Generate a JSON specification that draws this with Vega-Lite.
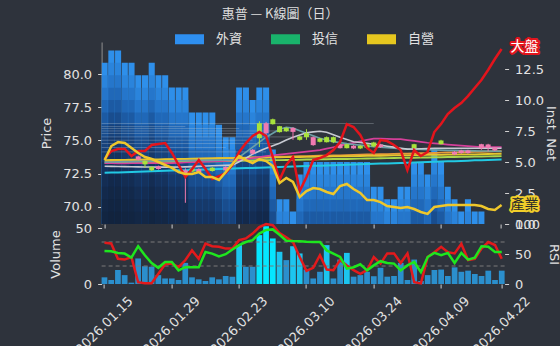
{
  "$schema": "https://vega.github.io/schema/vega-lite/v6.json",
  "background": "#2e333c",
  "autosize": {"type": "none"},
  "padding": {"left": 101.6, "top": 42, "right": 458.4, "bottom": 304},
  "title": {"text": "惠普 — K線圖（日）", "color": "#dedede", "fontSize": 13, "fontWeight": "normal", "font": "Noto Sans CJK TC", "anchor": "middle", "frame": "bounds", "offset": 4, "dx": -20},
  "config": {
    "font": "DejaVu Sans",
    "view": {"stroke": null},
    "axis": {"labelColor": "#e2e2e2", "titleColor": "#e2e2e2", "tickColor": "#d0d0d0", "domainColor": "#8f8f8f", "labelFontSize": 13, "titleFontSize": 13, "titleFontWeight": "normal", "grid": false, "tickSize": 4, "labelPadding": 6, "labelFont": "DejaVu Sans", "titleFont": "DejaVu Sans"}
  },
  "datasets": {
    "days": [
      {"d":"2026.01.15","fn":13,"mkt":5.24,"ind":5.16,"vol":6,"r1":68.6,"r2":55,"m1":72.56,"m2":73.44,"m3":73.52,"m4":73.29,"m5":73.29,"m6":73.06,"m7":73.37},
      {"d":"2026.01.16","fn":14,"mkt":5.89,"ind":6.29,"vol":3.6,"r1":67.5,"r2":54.6,"m1":72.58,"m2":73.45,"m3":73.53,"m4":73.30,"m5":73.29,"m6":73.05,"m7":73.38},
      {"d":"2026.01.19","fn":14,"mkt":6.05,"ind":6.61,"vol":12.6,"r1":42,"r2":51.8,"m1":72.59,"m2":73.47,"m3":73.54,"m4":73.31,"m5":73.28,"m6":73.04,"m7":73.39},
      {"d":"2026.01.20","fn":13,"mkt":6.05,"ind":6.53,"vol":8,"r1":40.7,"r2":50.7,"m1":72.61,"m2":73.48,"m3":73.54,"m4":73.32,"m5":73.28,"m6":73.03,"m7":73.40},
      {"d":"2026.01.21","fn":13,"mkt":5.48,"ind":6.13,"vol":1.2,"r1":45,"r2":44,"m1":72.63,"m2":73.49,"m3":73.55,"m4":73.33,"m5":73.29,"m6":73.02,"m7":73.41},
      {"d":"2026.01.22","fn":12,"mkt":5.89,"ind":5.73,"vol":23,"r1":3,"r2":63,"m1":72.65,"m2":73.50,"m3":73.56,"m4":73.34,"m5":73.29,"m6":73.01,"m7":73.42,"op":73.55,"hi":73.85,"lo":73.5,"cl":73.8},
      {"d":"2026.01.23","fn":12,"mkt":5.89,"ind":5.40,"vol":16,"r1":1.3,"r2":48,"m1":72.66,"m2":73.52,"m3":73.57,"m4":73.34,"m5":73.30,"m6":73.00,"m7":73.43,"op":73.45,"hi":73.5,"lo":72.95,"cl":73.2},
      {"d":"2026.01.26","fn":13,"mkt":6.37,"ind":5.24,"vol":15.5,"r1":1.3,"r2":35,"m1":72.68,"m2":73.53,"m3":73.58,"m4":73.35,"m5":73.30,"m6":73.00,"m7":73.44,"op":73.0,"hi":73.05,"lo":72.7,"cl":72.75},
      {"d":"2026.01.27","fn":12,"mkt":6.45,"ind":5.00,"vol":8,"r1":17,"r2":27,"m1":72.70,"m2":73.54,"m3":73.58,"m4":73.36,"m5":73.30,"m6":72.99,"m7":73.45,"op":72.85,"hi":73.1,"lo":72.8,"cl":73.05},
      {"d":"2026.01.28","fn":12,"mkt":6.53,"ind":4.76,"vol":5,"r1":32.8,"r2":36.7,"m1":72.71,"m2":73.55,"m3":73.59,"m4":73.37,"m5":73.30,"m6":72.99,"m7":73.46},
      {"d":"2026.01.29","fn":11,"mkt":5.73,"ind":4.52,"vol":5,"r1":34,"r2":36.7,"m1":72.73,"m2":73.57,"m3":73.60,"m4":73.38,"m5":73.30,"m6":72.99,"m7":73.46},
      {"d":"2026.01.30","fn":11,"mkt":4.76,"ind":4.19,"vol":3.6,"r1":28,"r2":22.7,"m1":72.75,"m2":73.58,"m3":73.61,"m4":73.39,"m5":73.32,"m6":73.00,"m7":73.47},
      {"d":"2026.02.02","fn":11,"mkt":3.79,"ind":4.03,"vol":19,"r1":39.5,"r2":28,"m1":72.76,"m2":73.59,"m3":73.62,"m4":73.40,"m5":73.34,"m6":73.01,"m7":73.48,"op":72.5,"hi":72.9,"lo":70.3,"cl":72.75},
      {"d":"2026.02.03","fn":9,"mkt":4.44,"ind":4.03,"vol":6,"r1":56,"r2":28,"m1":72.78,"m2":73.61,"m3":73.63,"m4":73.41,"m5":73.36,"m6":73.03,"m7":73.48,"op":72.9,"hi":72.95,"lo":72.6,"cl":72.65},
      {"d":"2026.02.04","fn":9,"mkt":5.16,"ind":4.19,"vol":4.2,"r1":42,"r2":28,"m1":72.80,"m2":73.62,"m3":73.63,"m4":73.42,"m5":73.38,"m6":73.05,"m7":73.49,"op":72.6,"hi":72.9,"lo":72.55,"cl":72.85},
      {"d":"2026.02.05","fn":9,"mkt":4.44,"ind":3.79,"vol":2.7,"r1":67.5,"r2":53.4,"m1":72.82,"m2":73.63,"m3":73.64,"m4":73.43,"m5":73.40,"m6":73.07,"m7":73.50},
      {"d":"2026.02.06","fn":9,"mkt":3.63,"ind":3.79,"vol":6,"r1":63,"r2":50.7,"m1":72.83,"m2":73.64,"m3":73.65,"m4":73.43,"m5":73.42,"m6":73.09,"m7":73.50,"op":72.95,"hi":73.0,"lo":72.65,"cl":72.7},
      {"d":"2026.02.09","fn":8,"mkt":3.87,"ind":3.55,"vol":4.2,"r1":62,"r2":46,"m1":72.85,"m2":73.66,"m3":73.66,"m4":73.44,"m5":73.45,"m6":73.11,"m7":73.51},
      {"d":"2026.02.10","fn":7,"mkt":4.11,"ind":4.19,"vol":7.2,"r1":59,"r2":49.6,"m1":72.87,"m2":73.67,"m3":73.67,"m4":73.45,"m5":73.47,"m6":73.12,"m7":73.51,"op":72.75,"hi":73.05,"lo":72.7,"cl":73.0},
      {"d":"2026.02.11","fn":7,"mkt":4.76,"ind":4.84,"vol":6.6,"r1":59,"r2":57.5,"m1":72.88,"m2":73.68,"m3":73.67,"m4":73.46,"m5":73.50,"m6":73.14,"m7":73.52},
      {"d":"2026.02.23","fn":11,"mkt":5.81,"ind":5.48,"vol":35,"r1":73,"r2":64.7,"m1":72.90,"m2":73.69,"m3":73.68,"m4":73.47,"m5":73.52,"m6":73.40,"m7":73.74},
      {"d":"2026.02.24","fn":11,"mkt":6.53,"ind":5.16,"vol":15.5,"r1":76,"r2":70,"m1":72.92,"m2":73.71,"m3":73.69,"m4":73.48,"m5":73.60,"m6":73.67,"m7":74.12},
      {"d":"2026.02.25","fn":10,"mkt":7.10,"ind":4.92,"vol":15.5,"r1":84,"r2":73,"m1":72.93,"m2":73.72,"m3":73.70,"m4":73.49,"m5":73.67,"m6":73.97,"m7":74.50,"op":74.0,"hi":74.35,"lo":73.95,"cl":74.3},
      {"d":"2026.02.26","fn":11,"mkt":7.42,"ind":5.24,"vol":44,"r1":95,"r2":84,"m1":72.95,"m2":73.73,"m3":73.71,"m4":73.50,"m5":73.75,"m6":74.20,"m7":74.88,"op":76.3,"hi":76.45,"lo":74.5,"cl":75.17},
      {"d":"2026.03.02","fn":11,"mkt":7.10,"ind":5.08,"vol":52,"r1":100,"r2":90,"m1":72.97,"m2":73.74,"m3":73.71,"m4":73.51,"m5":73.82,"m6":74.42,"m7":75.25,"op":75.55,"hi":76.4,"lo":75.3,"cl":76.3},
      {"d":"2026.03.03","fn":6,"mkt":5.40,"ind":4.68,"vol":41,"r1":98,"r2":91,"m1":72.99,"m2":73.76,"m3":73.72,"m4":73.52,"m5":73.88,"m6":74.61,"m7":75.55,"op":76.6,"hi":76.65,"lo":76.2,"cl":76.23},
      {"d":"2026.03.04","fn":2,"mkt":3.55,"ind":3.31,"vol":29,"r1":85,"r2":82,"m1":73.00,"m2":73.77,"m3":73.73,"m4":73.52,"m5":73.93,"m6":74.80,"m7":75.85,"op":76.08,"hi":76.1,"lo":75.6,"cl":75.63},
      {"d":"2026.03.05","fn":2,"mkt":4.76,"ind":3.71,"vol":21.5,"r1":78,"r2":72,"m1":73.02,"m2":73.78,"m3":73.74,"m4":73.53,"m5":73.99,"m6":75.03,"m7":76.00,"op":75.95,"hi":76.0,"lo":75.65,"cl":75.7},
      {"d":"2026.03.06","fn":1,"mkt":5.40,"ind":3.39,"vol":34,"r1":70,"r2":71.5,"m1":73.04,"m2":73.80,"m3":73.75,"m4":73.54,"m5":74.04,"m6":75.25,"m7":75.93,"op":75.65,"hi":76.0,"lo":75.05,"cl":75.95},
      {"d":"2026.03.09","fn":4,"mkt":2.66,"ind":2.18,"vol":27.5,"r1":45,"r2":71.4,"m1":73.05,"m2":73.81,"m3":73.75,"m4":73.55,"m5":74.10,"m6":75.42,"m7":75.74,"op":75.3,"hi":75.35,"lo":75.0,"cl":75.05},
      {"d":"2026.03.10","fn":5,"mkt":3.79,"ind":2.66,"vol":13,"r1":22,"r2":70.5,"m1":73.07,"m2":73.82,"m3":73.76,"m4":73.56,"m5":74.16,"m6":75.59,"m7":75.55,"op":75.55,"hi":75.85,"lo":75.05,"cl":75.25},
      {"d":"2026.03.11","fn":5,"mkt":5.16,"ind":2.90,"vol":5,"r1":27,"r2":70,"m1":73.09,"m2":73.83,"m3":73.77,"m4":73.57,"m5":74.21,"m6":75.65,"m7":75.36,"op":74.65,"hi":75.3,"lo":74.6,"cl":75.25},
      {"d":"2026.03.12","fn":5,"mkt":5.32,"ind":2.82,"vol":11,"r1":48,"r2":70,"m1":73.10,"m2":73.85,"m3":73.78,"m4":73.58,"m5":74.27,"m6":75.70,"m7":75.17,"op":75.15,"hi":75.2,"lo":74.85,"cl":74.9},
      {"d":"2026.03.13","fn":5,"mkt":5.56,"ind":2.58,"vol":35,"r1":24,"r2":56,"m1":73.12,"m2":73.86,"m3":73.79,"m4":73.59,"m5":74.38,"m6":75.62,"m7":75.04,"op":75.25,"hi":75.3,"lo":74.85,"cl":74.87},
      {"d":"2026.03.16","fn":5,"mkt":5.97,"ind":2.42,"vol":5,"r1":23,"r2":50.7,"m1":73.14,"m2":73.87,"m3":73.80,"m4":73.60,"m5":74.49,"m6":75.44,"m7":74.91,"op":75.25,"hi":75.3,"lo":74.8,"cl":74.87},
      {"d":"2026.03.17","fn":5,"mkt":6.61,"ind":3.06,"vol":22,"r1":40,"r2":45,"m1":73.16,"m2":73.88,"m3":73.80,"m4":73.61,"m5":74.61,"m6":75.25,"m7":74.84,"op":74.42,"hi":74.75,"lo":74.4,"cl":74.72},
      {"d":"2026.03.18","fn":5,"mkt":8.06,"ind":3.23,"vol":28,"r1":31,"r2":25.5,"m1":73.17,"m2":73.90,"m3":73.81,"m4":73.61,"m5":74.72,"m6":75.08,"m7":74.76,"op":74.72,"hi":74.75,"lo":74.4,"cl":74.42},
      {"d":"2026.03.19","fn":5,"mkt":7.82,"ind":2.82,"vol":6.6,"r1":23,"r2":28,"m1":73.19,"m2":73.91,"m3":73.82,"m4":73.62,"m5":74.82,"m6":74.91,"m7":74.70,"op":74.4,"hi":74.65,"lo":74.35,"cl":74.6},
      {"d":"2026.03.20","fn":5,"mkt":7.18,"ind":2.50,"vol":8,"r1":17,"r2":32.8,"m1":73.21,"m2":73.92,"m3":73.83,"m4":73.63,"m5":74.93,"m6":74.85,"m7":74.65,"op":74.6,"hi":74.65,"lo":74.35,"cl":74.4},
      {"d":"2026.03.23","fn":5,"mkt":6.13,"ind":1.94,"vol":11,"r1":23,"r2":22.7,"m1":73.22,"m2":73.94,"m3":73.84,"m4":73.64,"m5":75.04,"m6":74.78,"m7":74.59,"op":74.7,"hi":74.75,"lo":74.4,"cl":74.45},
      {"d":"2026.03.24","fn":3,"mkt":5.73,"ind":1.94,"vol":7,"r1":45,"r2":31,"m1":73.24,"m2":73.95,"m3":73.84,"m4":73.65,"m5":75.14,"m6":74.72,"m7":74.53,"op":74.85,"hi":74.9,"lo":74.5,"cl":74.55},
      {"d":"2026.03.25","fn":3,"mkt":6.77,"ind":1.77,"vol":14.6,"r1":34,"r2":38,"m1":73.26,"m2":73.96,"m3":73.85,"m4":73.66,"m5":75.14,"m6":74.65,"m7":74.49,"op":74.5,"hi":74.75,"lo":74.45,"cl":74.7},
      {"d":"2026.03.26","fn":2,"mkt":6.69,"ind":1.45,"vol":6.6,"r1":51,"r2":35,"m1":73.27,"m2":73.97,"m3":73.86,"m4":73.67,"m5":75.13,"m6":74.57,"m7":74.46},
      {"d":"2026.03.27","fn":2,"mkt":6.37,"ind":1.37,"vol":7.2,"r1":51,"r2":34,"m1":73.29,"m2":73.99,"m3":73.87,"m4":73.68,"m5":75.11,"m6":74.50,"m7":74.42},
      {"d":"2026.03.30","fn":3,"mkt":5.97,"ind":1.29,"vol":19,"r1":35,"r2":22.7,"m1":73.31,"m2":74.00,"m3":73.88,"m4":73.69,"m5":75.10,"m6":74.42,"m7":74.39},
      {"d":"2026.03.31","fn":3,"mkt":4.35,"ind":1.37,"vol":3.6,"r1":51,"r2":31,"m1":73.33,"m2":74.01,"m3":73.88,"m4":73.70,"m5":75.03,"m6":74.35,"m7":74.35},
      {"d":"2026.04.01","fn":5,"mkt":5.97,"ind":1.21,"vol":22,"r1":3,"r2":36.7,"m1":73.34,"m2":74.02,"m3":73.89,"m4":73.70,"m5":74.97,"m6":74.36,"m7":74.34,"op":74.72,"hi":74.75,"lo":74.4,"cl":74.42},
      {"d":"2026.04.02","fn":5,"mkt":5.48,"ind":0.97,"vol":2.7,"r1":1,"r2":19.8,"m1":73.36,"m2":74.04,"m3":73.90,"m4":73.71,"m5":74.90,"m6":74.38,"m7":74.32},
      {"d":"2026.04.07","fn":4,"mkt":5.81,"ind":0.81,"vol":8,"r1":45,"r2":45,"m1":73.38,"m2":74.05,"m3":73.91,"m4":73.72,"m5":74.83,"m6":74.39,"m7":74.30},
      {"d":"2026.04.08","fn":6,"mkt":7.42,"ind":1.37,"vol":12.6,"r1":53,"r2":51.8,"m1":73.39,"m2":74.06,"m3":73.92,"m4":73.73,"m5":74.78,"m6":74.41,"m7":74.29},
      {"d":"2026.04.09","fn":5,"mkt":8.06,"ind":1.45,"vol":13,"r1":62,"r2":48,"m1":73.41,"m2":74.08,"m3":73.92,"m4":73.74,"m5":74.74,"m6":74.42,"m7":74.27,"op":75.0,"hi":75.05,"lo":74.7,"cl":74.72},
      {"d":"2026.04.10","fn":3,"mkt":8.87,"ind":1.53,"vol":7.2,"r1":53,"r2":51.8,"m1":73.43,"m2":74.09,"m3":73.93,"m4":73.75,"m5":74.69,"m6":74.42,"m7":74.26},
      {"d":"2026.04.13","fn":2,"mkt":9.35,"ind":1.53,"vol":15,"r1":51,"r2":35,"m1":73.44,"m2":74.10,"m3":73.94,"m4":73.76,"m5":74.65,"m6":74.42,"m7":74.25,"op":73.95,"hi":74.2,"lo":73.9,"cl":74.15},
      {"d":"2026.04.14","fn":1,"mkt":9.76,"ind":1.53,"vol":11,"r1":67,"r2":51.8,"m1":73.46,"m2":74.11,"m3":73.95,"m4":73.77,"m5":74.61,"m6":74.42,"m7":74.24,"op":74.05,"hi":74.3,"lo":74.0,"cl":74.25},
      {"d":"2026.04.15","fn":2,"mkt":10.32,"ind":1.53,"vol":12,"r1":40,"r2":40.7,"m1":73.48,"m2":74.13,"m3":73.96,"m4":73.78,"m5":74.57,"m6":74.42,"m7":74.23,"op":74.05,"hi":74.3,"lo":74.0,"cl":74.25},
      {"d":"2026.04.16","fn":1,"mkt":10.97,"ind":1.53,"vol":9,"r1":42,"r2":44,"m1":73.50,"m2":74.14,"m3":73.96,"m4":73.79,"m5":74.54,"m6":74.42,"m7":74.22},
      {"d":"2026.04.17","fn":1,"mkt":11.61,"ind":1.45,"vol":7.2,"r1":59,"r2":63,"m1":73.51,"m2":74.15,"m3":73.97,"m4":73.79,"m5":74.50,"m6":74.42,"m7":74.21,"op":74.42,"hi":74.75,"lo":74.3,"cl":74.72},
      {"d":"2026.04.20","fn":0,"mkt":12.42,"ind":1.21,"vol":12,"r1":70,"r2":62,"m1":73.53,"m2":74.16,"m3":73.98,"m4":73.80,"m5":74.50,"m6":74.42,"m7":74.21,"op":74.45,"hi":74.75,"lo":74.2,"cl":74.7},
      {"d":"2026.04.21","fn":0,"mkt":13.31,"ind":1.13,"vol":3.6,"r1":65,"r2":53.4,"m1":73.55,"m2":74.18,"m3":73.99,"m4":73.81,"m5":74.50,"m6":74.42,"m7":74.20,"op":74.25,"hi":74.5,"lo":74.2,"cl":74.45},
      {"d":"2026.04.22","fn":0,"mkt":14.11,"ind":1.53,"vol":12,"r1":42,"r2":53.4,"m1":73.56,"m2":74.19,"m3":74.00,"m4":73.82,"m5":74.50,"m6":74.42,"m7":74.19}
    ],
    "lv": [
      {"s":"2026.01.15","e":"2026.03.24","p":76.28},
      {"s":"2026.01.15","e":"2026.02.02","p":76.05},
      {"s":"2026.01.15","e":"2026.02.23","p":75.90},
      {"s":"2026.01.15","e":"2026.03.06","p":75.72},
      {"s":"2026.01.15","e":"2026.03.02","p":75.53},
      {"s":"2026.01.15","e":"2026.03.11","p":75.27},
      {"s":"2026.01.15","e":"2026.02.25","p":75.02},
      {"s":"2026.01.15","e":"2026.03.04","p":74.77},
      {"s":"2026.01.15","e":"2026.02.10","p":74.47},
      {"s":"2026.01.15","e":"2026.03.02","p":74.14}
    ],
    "inst": [{"inst":"外資"},{"inst":"投信"},{"inst":"自營"}]
  },
  "data": {"name": "days"},
  "spacing": 0,
  "bounds": "flush",
  "resolve": {"scale": {"x": "independent", "color": "independent"}, "legend": {"color": "independent"}},
  "vconcat": [
    {
      "width": 403,
      "height": 182,
      "encoding": {
        "x": {"field": "d", "type": "ordinal", "scale": {"paddingInner": 0.1, "paddingOuter": 0},
          "axis": {"values": ["2026.01.15","2026.01.29","2026.02.23","2026.03.10","2026.03.24","2026.04.09","2026.04.22"], "labels": false, "ticks": true, "domain": false, "tickSize": 4, "title": null}}
      },
      "layer": [
        {
          "encoding": {"y": {"field": "fn", "type": "quantitative", "scale": {"domain": [0, 14.68], "nice": false},
            "axis": {"orient": "right", "title": "Inst. Net", "values": [0, 2.5, 5, 7.5, 10, 12.5], "format": ".1f", "domain": false, "minExtent": 38, "maxExtent": 38, "titlePadding": 1}}},
          "layer": [
            {"mark": {"type": "bar", "color": "#2e8fea", "yOffset": 0, "clip": true}},
            {"mark": {"type": "bar", "color": "#2a84dc", "yOffset": 12.4, "clip": true}},
            {"mark": {"type": "bar", "color": "#2576cb", "yOffset": 24.8, "clip": true}},
            {"mark": {"type": "bar", "color": "#2068b8", "yOffset": 37.2, "clip": true}},
            {"mark": {"type": "bar", "color": "#1c5aa3", "yOffset": 49.6, "clip": true}},
            {"mark": {"type": "bar", "color": "#194d8e", "yOffset": 62, "clip": true}},
            {"mark": {"type": "bar", "color": "#17427b", "yOffset": 74.4, "clip": true}},
            {"mark": {"type": "bar", "color": "#16396a", "yOffset": 86.8, "clip": true}},
            {"mark": {"type": "bar", "color": "#15325d", "yOffset": 99.2, "clip": true}},
            {"mark": {"type": "bar", "color": "#142d53", "yOffset": 111.6, "clip": true}},
            {"mark": {"type": "bar", "color": "#13294b", "yOffset": 124, "clip": true}},
            {"mark": {"type": "bar", "color": "#132745", "yOffset": 136.4, "clip": true}},
            {"mark": {"type": "bar", "color": "#122541", "yOffset": 148.8, "clip": true}},
            {"mark": {"type": "bar", "color": "#12233d", "yOffset": 161.2, "clip": true}}
          ]
        },
        {
          "layer": [
            {"data": {"name": "lv"},
             "mark": {"type": "rule", "color": "#c5ccd6", "opacity": 0.3, "strokeWidth": 1},
             "encoding": {
               "x": {"field": "s", "type": "ordinal", "bandPosition": 0},
               "x2": {"field": "e"},
               "y": {"field": "p", "type": "quantitative", "scale": {"domain": [68.70, 82.43], "nice": false, "zero": false},
                 "axis": {"orient": "left", "title": "Price", "values": [70, 72.5, 75, 77.5, 80], "format": ".1f", "minExtent": 35, "maxExtent": 35, "titlePadding": 13}}}},
            {"transform": [{"fold": ["m1","m4","m2","m3","m5","m7","m6"], "as": ["ma","pv"]}],
             "mark": {"type": "line"},
             "encoding": {
               "y": {"field": "pv", "type": "quantitative", "scale": {"domain": [68.70, 82.43], "nice": false, "zero": false},
                 "axis": {"orient": "left", "title": "Price", "values": [70, 72.5, 75, 77.5, 80], "format": ".1f", "minExtent": 35, "maxExtent": 35, "titlePadding": 13}},
               "stroke": {"field": "ma", "type": "nominal", "scale": {"domain": ["m1","m4","m2","m3","m5","m7","m6"], "range": ["#22c9e3","#a9d64b","#e99b3a","#e4c62e","#d4409a","#6b9fa6","#c7c9d1"]}, "legend": null},
               "strokeWidth": {"field": "ma", "type": "ordinal", "scale": {"domain": ["m1","m4","m2","m3","m5","m7","m6"], "range": [2, 1.6, 1.6, 3, 2, 2, 2]}, "legend": null}}},
            {"mark": {"type": "rule", "strokeWidth": 1},
             "encoding": {
               "y": {"field": "lo", "type": "quantitative", "scale": {"domain": [68.70, 82.43], "nice": false, "zero": false},
                 "axis": {"orient": "left", "title": "Price", "values": [70, 72.5, 75, 77.5, 80], "format": ".1f", "minExtent": 35, "maxExtent": 35, "titlePadding": 13}},
               "y2": {"field": "hi"},
               "color": {"condition": {"test": "datum.cl >= datum.op", "value": "#f07ab0"}, "value": "#a8e23c"}}},
            {"mark": {"type": "bar", "width": 5},
             "encoding": {
               "y": {"field": "op", "type": "quantitative", "scale": {"domain": [68.70, 82.43], "nice": false, "zero": false},
                 "axis": {"orient": "left", "title": "Price", "values": [70, 72.5, 75, 77.5, 80], "format": ".1f", "minExtent": 35, "maxExtent": 35, "titlePadding": 13}},
               "y2": {"field": "cl"},
               "color": {"condition": {"test": "datum.cl >= datum.op", "value": "#f07ab0"}, "value": "#a8e23c"}}}
          ]
        },
        {
          "layer": [
            {"data": {"name": "inst"},
             "mark": {"type": "bar"},
             "encoding": {
               "x": {"value": 0}, "x2": {"value": 1},
               "y": {"value": 0}, "y2": {"value": 0},
               "color": {"field": "inst", "type": "nominal",
                 "scale": {"domain": ["外資","投信","自營"], "range": ["#2e8ff0","#19b36b","#e6c71f"]},
                 "legend": {"orient": "none", "legendX": 73.4, "legendY": -17.5, "direction": "horizontal", "title": null,
                   "symbolType": "M-1,-0.345H1V0.345H-1Z", "symbolSize": 841, "symbolStrokeWidth": 0,
                   "labelColor": "#e2e2e2", "labelFontSize": 13, "labelFont": "Noto Sans CJK TC", "labelOffset": 12, "columnPadding": 28, "padding": 0}}}},
            {"mark": {"type": "line", "color": "#e3141c", "strokeWidth": 2.5},
             "encoding": {"y": {"field": "mkt", "type": "quantitative", "scale": {"domain": [0, 14.68], "nice": false}, "axis": null}}},
            {"mark": {"type": "line", "color": "#efc72b", "strokeWidth": 2.5},
             "encoding": {"y": {"field": "ind", "type": "quantitative", "scale": {"domain": [0, 14.68], "nice": false}, "axis": null}}},
            {"transform": [{"filter": "datum.d == '2026.04.22'"}],
             "mark": {"type": "text", "text": "大盤", "align": "left", "baseline": "middle", "dx": 9, "dy": -2, "fontSize": 14, "font": "Noto Sans CJK TC", "fill": "#e3141c", "stroke": "#e3141c", "strokeWidth": 4, "strokeJoin": "round"},
             "encoding": {"y": {"field": "mkt", "type": "quantitative", "scale": {"domain": [0, 14.68], "nice": false}, "axis": null}}},
            {"transform": [{"filter": "datum.d == '2026.04.22'"}],
             "mark": {"type": "text", "text": "大盤", "align": "left", "baseline": "middle", "dx": 9, "dy": -2, "fontSize": 14, "font": "Noto Sans CJK TC", "fill": "#ffffff"},
             "encoding": {"y": {"field": "mkt", "type": "quantitative", "scale": {"domain": [0, 14.68], "nice": false}, "axis": null}}},
            {"transform": [{"filter": "datum.d == '2026.04.22'"}],
             "mark": {"type": "text", "text": "產業", "align": "left", "baseline": "middle", "dx": 9, "dy": 0, "fontSize": 14, "font": "Noto Sans CJK TC", "fill": "#f2cf2a", "stroke": "#f2cf2a", "strokeWidth": 4, "strokeJoin": "round"},
             "encoding": {"y": {"field": "ind", "type": "quantitative", "scale": {"domain": [0, 14.68], "nice": false}, "axis": null}}},
            {"transform": [{"filter": "datum.d == '2026.04.22'"}],
             "mark": {"type": "text", "text": "產業", "align": "left", "baseline": "middle", "dx": 9, "dy": 0, "fontSize": 14, "font": "Noto Sans CJK TC", "fill": "#2a2a2a"},
             "encoding": {"y": {"field": "ind", "type": "quantitative", "scale": {"domain": [0, 14.68], "nice": false}, "axis": null}}}
          ]
        }
      ],
      "resolve": {"scale": {"y": "independent"}}
    },
    {
      "width": 403,
      "height": 60,
      "encoding": {
        "x": {"field": "d", "type": "ordinal", "scale": {"paddingInner": 0.15, "paddingOuter": 0},
          "axis": {"values": ["2026.01.15","2026.01.29","2026.02.23","2026.03.10","2026.03.24","2026.04.09","2026.04.22"], "labelAngle": -45, "labelAlign": "center", "labelBaseline": "middle", "labelPadding": 37, "tickSize": 4, "domain": false, "title": null, "labelFontSize": 13}}
      },
      "layer": [
        {"mark": {"type": "bar"},
         "encoding": {
           "y": {"field": "vol", "type": "quantitative", "scale": {"domain": [0, 54], "nice": false},
             "axis": {"orient": "left", "title": "Volume", "values": [0, 50], "format": "d", "domain": false, "minExtent": 35, "maxExtent": 35, "titlePadding": 4}},
           "color": {"condition": [{"test": "datum.vol >= 40", "value": "#05e6ff"}, {"test": "datum.vol >= 27", "value": "#1cc5ef"}], "value": "#2b8fcd"}}},
        {
          "layer": [
            {"data": {"values": [{"v": 30}, {"v": 70}]},
             "mark": {"type": "rule", "color": "#7a7a7a", "strokeDash": [4, 3], "strokeWidth": 1},
             "encoding": {
               "x": {"value": 0}, "x2": {"value": "width"},
               "y": {"field": "v", "type": "quantitative", "scale": {"domain": [0, 100], "nice": false},
                 "axis": {"orient": "right", "title": "RSI", "values": [0, 50, 100], "format": "d", "domain": false, "minExtent": 38, "maxExtent": 38, "titlePadding": 4}}}},
            {"mark": {"type": "line", "color": "#e31a1c", "strokeWidth": 2.5},
             "encoding": {"y": {"field": "r1", "type": "quantitative", "scale": {"domain": [0, 100], "nice": false},
               "axis": {"orient": "right", "title": "RSI", "values": [0, 50, 100], "format": "d", "domain": false, "minExtent": 38, "maxExtent": 38, "titlePadding": 4}}}},
            {"mark": {"type": "line", "color": "#1ee61e", "strokeWidth": 2.5},
             "encoding": {"y": {"field": "r2", "type": "quantitative", "scale": {"domain": [0, 100], "nice": false},
               "axis": {"orient": "right", "title": "RSI", "values": [0, 50, 100], "format": "d", "domain": false, "minExtent": 38, "maxExtent": 38, "titlePadding": 4}}}}
          ]
        }
      ],
      "resolve": {"scale": {"y": "independent"}}
    }
  ]
}
